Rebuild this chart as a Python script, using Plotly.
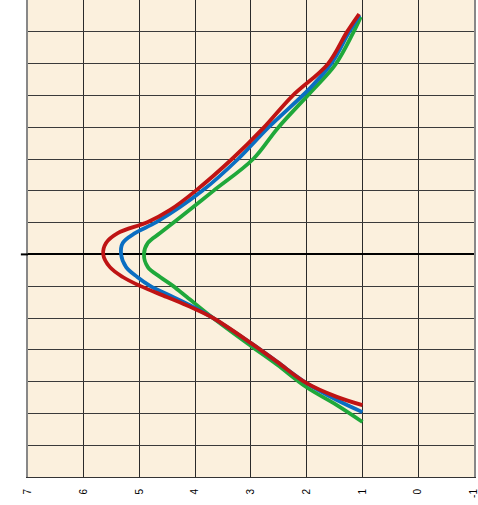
import plotly.graph_objects as go

# Scale values (horizontal axis, reversed 7 .. -1)
tick_vals = [7, 6, 5, 4, 3, 2, 1, 0, -1]
tick_text = ["7", "6", "5", "4", "3", "2", "1", "0", "-1"]

# Series: (scale value, position) pairs
red_x = [1.06, 1.28, 1.62, 2.26, 2.78, 3.34, 4.00, 4.45, 4.85, 5.39, 5.60, 5.65,
         5.53, 5.30, 4.99, 4.51, 4.09, 3.68, 3.00, 2.53, 2.01, 1.46, 1.00]
red_y = [7.56, 6.99, 5.99, 4.98, 3.97, 3.00, 1.99, 1.40, 1.02, 0.67, 0.36, 0.00,
         -0.40, -0.71, -0.99, -1.34, -1.65, -2.00, -2.79, -3.38, -4.04, -4.48, -4.74]

blue_x = [1.05, 1.24, 1.55, 1.94, 2.70, 3.23, 3.88, 4.69, 5.08, 5.30, 5.33,
          5.24, 5.04, 4.81, 4.40, 4.04, 3.68, 3.00, 2.53, 2.01, 1.46, 1.00]
blue_y = [7.53, 6.99, 6.02, 5.23, 3.97, 3.00, 1.99, 1.02, 0.67, 0.36, 0.00,
          -0.40, -0.71, -0.99, -1.34, -1.65, -2.00, -2.79, -3.38, -4.04, -4.58, -4.96]

green_x = [1.03, 1.17, 1.49, 1.94, 2.52, 2.96, 3.68, 4.33, 4.63, 4.85, 4.92,
           4.85, 4.63, 4.40, 4.15, 3.68, 3.00, 2.53, 2.01, 1.46, 1.00]
green_y = [7.47, 6.96, 5.96, 5.08, 3.97, 3.00, 1.99, 1.08, 0.67, 0.36, 0.00,
           -0.40, -0.71, -0.99, -1.34, -2.00, -2.88, -3.47, -4.17, -4.74, -5.27]

series = [
    (green_x, green_y, "#1FA83A"),
    (blue_x, blue_y, "#0A6EC2"),
    (red_x, red_y, "#BF1414"),
]

fig = go.Figure()
for xs, ys, col in series:
    fig.add_trace(go.Scatter(x=xs, y=ys, mode="lines",
                             line=dict(color=col, width=3.8, shape="spline", smoothing=1.0),
                             hoverinfo="skip", cliponaxis=False))

fig.add_shape(type="line", xref="paper", yref="y", x0=-0.016, x1=0, y0=0, y1=0,
              line=dict(color="black", width=2))

fig.update_layout(
    width=478, height=505,
    margin=dict(l=28, r=4, t=0, b=28, autoexpand=False),
    paper_bgcolor="white",
    plot_bgcolor="#FBF0DD",
    showlegend=False,
    xaxis=dict(range=[7, -1.001], tickmode="array", tickvals=tick_vals, ticktext=tick_text,
               tickangle=-90, tickfont=dict(family="Liberation Sans, Arial", size=10, color="black"),
               ticklabeloverflow="allow",
               showgrid=True, gridcolor="#2a2a2a", gridwidth=1, automargin=False,
               zeroline=False, showline=True, linecolor="#333", linewidth=1, mirror=True,
               ticks="outside", ticklen=7, tickcolor="rgba(0,0,0,0)"),
    yaxis=dict(range=[-7, 8], dtick=1, tick0=0, showticklabels=False, automargin=False,
               showgrid=True, gridcolor="#3a3a3a", gridwidth=1,
               zeroline=True, zerolinecolor="black", zerolinewidth=2,
               showline=True, linecolor="#888", linewidth=2, mirror=True, ticks=""),
)

fig.write_html("out.html", post_script="document.body.style.margin='0';",
               config={"displayModeBar": False})
